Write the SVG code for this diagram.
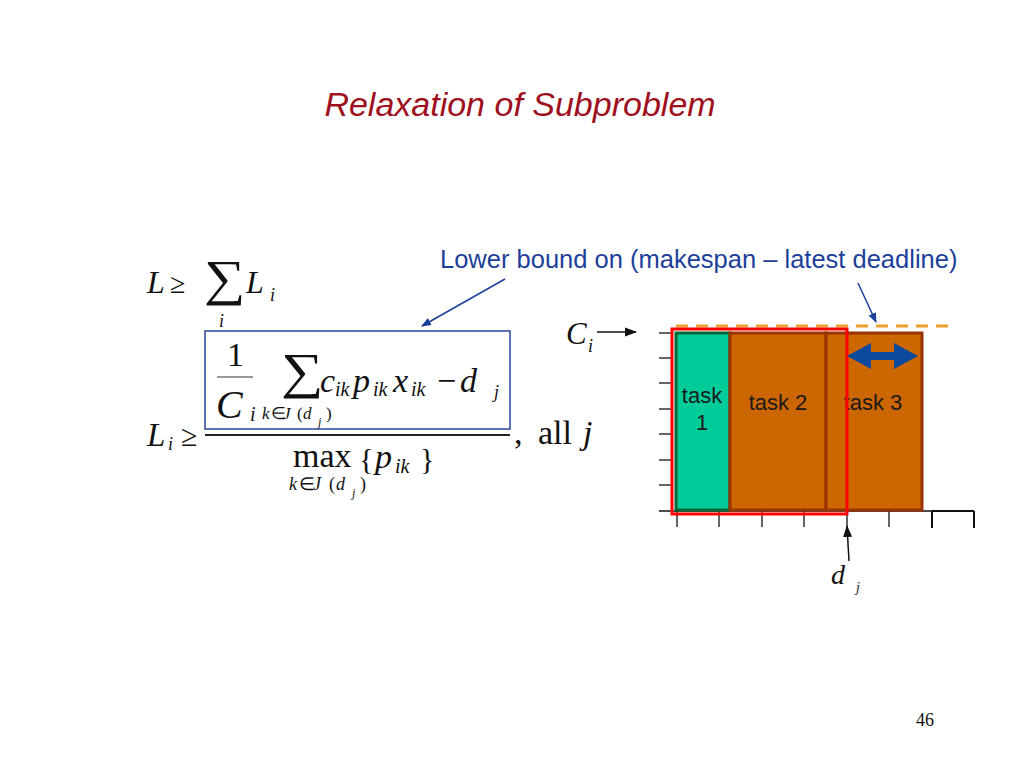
<svg xmlns="http://www.w3.org/2000/svg" width="1024" height="768" viewBox="0 0 1024 768">
<style>
.m{font-family:"Liberation Serif","Times New Roman",serif;fill:#111}
.it{font-style:italic}
.s{font-family:"Liberation Sans",Arial,sans-serif}
.blue{fill:#1c3f9a}
.task{font-family:"Liberation Sans",Arial,sans-serif;font-size:22px;fill:#1a1a1a;text-anchor:middle}
.tk{stroke:#111;stroke-width:1.3}
</style>
<defs>
<marker id="ab" markerWidth="10" markerHeight="10" refX="9" refY="5" orient="auto" markerUnits="userSpaceOnUse"><path d="M0,1 L10,5 L0,9 Z" fill="#1c3f9a"/></marker>
<marker id="ak" markerWidth="12" markerHeight="10" refX="11" refY="5" orient="auto" markerUnits="userSpaceOnUse"><path d="M0,0.5 L12,5 L0,9.5 Z" fill="#111"/></marker>
</defs>
<rect width="1024" height="768" fill="#fff"/>

<text id="title" x="520" y="116" text-anchor="middle" class="s" font-style="italic" font-size="34" fill="#9e1020">Relaxation of Subproblem</text>

<g id="formula1" class="m">
<text x="147" y="293" class="it" font-size="32">L</text>
<text x="170" y="293" font-size="28">≥</text>
<text transform="translate(204,295) scale(1.16,1)" font-size="50">∑</text>
<text x="246" y="293" class="it" font-size="32">L</text>
<text x="270" y="301" class="it" font-size="18">i</text>
<text x="219" y="327" class="it" font-size="18">i</text>
</g>

<g id="formula2" class="m">
<text x="147" y="446" class="it" font-size="33">L</text>
<text x="168" y="450" class="it" font-size="18">i</text>
<text x="181" y="446" font-size="30">≥</text>
<text x="227" y="366" font-size="34">1</text>
<line x1="217" y1="377" x2="253" y2="377" stroke="#333" stroke-width="1"/>
<text x="216" y="418" class="it" font-size="40">C</text>
<text x="250" y="421" class="it" font-size="20">i</text>
<text transform="translate(281,388) scale(1.19,1)" font-size="50">∑</text>
<text x="320" y="392" class="it" font-size="34">c</text>
<text x="335" y="396" class="it" font-size="20">ik</text>
<text x="353" y="392" class="it" font-size="34">p</text>
<text x="373" y="396" class="it" font-size="20">ik</text>
<text x="393" y="392" class="it" font-size="34">x</text>
<text x="411" y="396" class="it" font-size="20">ik</text>
<text x="437" y="392" font-size="34">−</text>
<text x="460" y="392" class="it" font-size="34">d</text>
<text x="494" y="398" class="it" font-size="18">j</text>
<g font-size="17">
<text x="262" y="419" class="it">k</text>
<text x="271" y="419">∈</text>
<text x="283" y="419" class="it">J</text>
<text x="297" y="419">(</text>
<text x="303" y="419" class="it">d</text>
<text x="318" y="426" class="it" font-size="12">j</text>
<text x="326" y="419">)</text>
</g>
<line x1="205" y1="435" x2="510" y2="435" stroke="#222" stroke-width="2"/>
<text x="293" y="467" font-size="34">max</text>
<text x="359" y="469" font-size="30">{</text>
<text x="375" y="468" class="it" font-size="34">p</text>
<text x="395" y="473" class="it" font-size="20">ik</text>
<text x="420" y="469" font-size="30">}</text>
<g font-size="18">
<text x="289" y="490" class="it">k</text>
<text x="299" y="490">∈</text>
<text x="313" y="490" class="it">J</text>
<text x="329" y="490">(</text>
<text x="336" y="490" class="it">d</text>
<text x="352" y="497" class="it" font-size="12">j</text>
<text x="360" y="490">)</text>
</g>
<text x="514" y="444" font-size="34">,</text>
<text x="538" y="444" font-size="34">all</text>
<text x="583" y="444" class="it" font-size="34">j</text>
</g>

<g id="lower-bound-box">
<rect x="205" y="331" width="305" height="98" fill="none" stroke="#2846a0" stroke-width="1.5"/>
</g>

<g id="lower-bound-label">
<text x="440" y="268" class="s blue" font-size="25.5">Lower bound on (makespan – latest deadline)</text>
</g>

<g id="axes">
<line x1="659" y1="511" x2="974" y2="511" class="tk"/>
<line x1="672" y1="332" x2="672" y2="511" class="tk"/>
<g class="tk">
<line x1="659" y1="333" x2="672" y2="333"/>
<line x1="659" y1="358" x2="672" y2="358"/>
<line x1="659" y1="383" x2="672" y2="383"/>
<line x1="659" y1="409" x2="672" y2="409"/>
<line x1="659" y1="434" x2="672" y2="434"/>
<line x1="659" y1="460" x2="672" y2="460"/>
<line x1="659" y1="485" x2="672" y2="485"/>
<line x1="677" y1="511" x2="677" y2="527"/>
<line x1="719" y1="511" x2="719" y2="527"/>
<line x1="762" y1="511" x2="762" y2="527"/>
<line x1="804" y1="511" x2="804" y2="527"/>
<line x1="847" y1="511" x2="847" y2="527"/>
<line x1="889" y1="511" x2="889" y2="527"/>
</g>
<line x1="932" y1="511" x2="932" y2="528" stroke="#111" stroke-width="2"/>
<line x1="974" y1="511" x2="974" y2="528" stroke="#111" stroke-width="2"/>
<line x1="932" y1="511" x2="974" y2="511" stroke="#111" stroke-width="2"/>
</g>

<g id="task1">
<rect x="676" y="333" width="54" height="177" fill="#00cc99" stroke="#006633" stroke-width="3"/>
<text x="702" y="403" class="task">task</text>
<text x="702" y="430" class="task">1</text>
</g>
<g id="task2">
<rect x="730" y="333" width="96" height="177" fill="#cc6600" stroke="#993300" stroke-width="3"/>
<text x="778" y="410" class="task">task 2</text>
</g>
<g id="task3">
<rect x="826" y="333" width="96" height="177" fill="#cc6600" stroke="#993300" stroke-width="3"/>
<text x="873" y="410" class="task">task 3</text>
</g>

<g id="deadline-window">
<line x1="676" y1="326" x2="952" y2="326" stroke="#f0a030" stroke-width="3" stroke-dasharray="12 8"/>
<rect x="672" y="329" width="175" height="185" fill="none" stroke="#ff0000" stroke-width="3"/>
</g>

<g id="slack-arrow">
<polygon points="847,356 871,343 871,352 894,352 894,343 918,356 894,369 894,360 871,360 871,369" fill="#0d4a9e"/>
</g>

<g id="ci-label" class="m">
<text x="566" y="344" class="it" font-size="31">C</text>
<text x="588" y="352" class="it" font-size="18">i</text>
</g>

<g id="dj-label" class="m">
<text x="831" y="584" class="it" font-size="28">d</text>
<text x="856" y="592" class="it" font-size="14">j</text>
</g>

<g id="connectors">
<line x1="505" y1="279" x2="422" y2="326" stroke="#1c3f9a" stroke-width="1.5" marker-end="url(#ab)"/>
<line x1="858" y1="283" x2="876" y2="322" stroke="#1c3f9a" stroke-width="1.5" marker-end="url(#ab)"/>
<line x1="597" y1="332" x2="636" y2="332" stroke="#111" stroke-width="1.5" marker-end="url(#ak)"/>
<line x1="849" y1="561" x2="847" y2="526" stroke="#111" stroke-width="1.5" marker-end="url(#ak)"/>
</g>

<text id="page" x="916" y="726" class="m" font-size="18" fill="#333">46</text>
</svg>
